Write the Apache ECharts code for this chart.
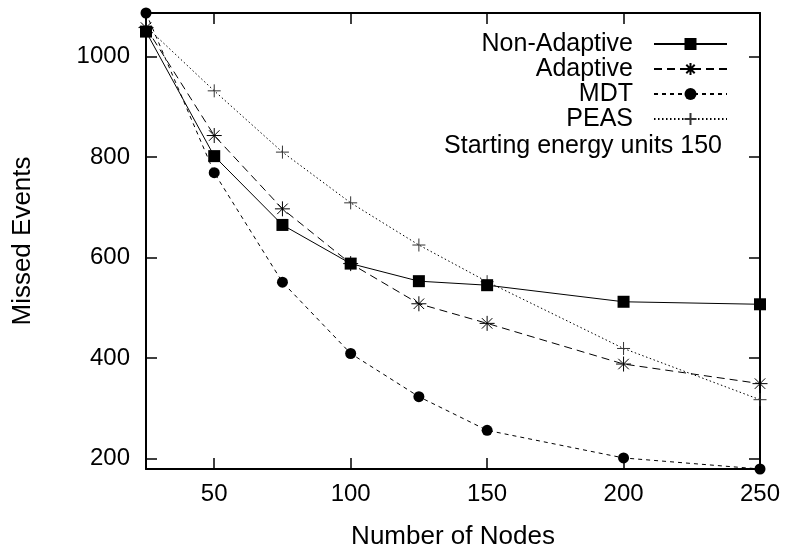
<!DOCTYPE html>
<html>
<head>
<meta charset="utf-8">
<title>Missed Events vs Number of Nodes</title>
<script src="https://cdn.jsdelivr.net/npm/echarts@6/dist/echarts.min.js"></script>
<style>
  html, body { margin: 0; padding: 0; background: #fff; }
  #chart { width: 789px; height: 548px; }
</style>
</head>
<body>
<div id="chart"></div>
<script>
// Number of nodes in the network (x values)
const nodes = [25, 50, 75, 100, 125, 150, 200, 250];

// Missed events per protocol
const nonAdaptive = [1050, 802, 665, 588, 553, 545, 512, 507];
const adaptive    = [1058, 843, 697, 588, 508, 469, 388, 349];
const mdt         = [1087, 769, 551, 409, 323, 256, 201, 179];
const peas        = [1060, 932, 810, 709, 625, 552, 419, 317];

// Tick positions
const xTicks = [50, 100, 150, 200, 250];
const yTicks = [200, 400, 600, 800, 1000];

const FONT = '"Liberation Sans", Arial, Helvetica, sans-serif';
const INK = '#000';

const ASTERISK = 'path://M5 0L5 10M0 5L10 5M1.5 1.5L8.5 8.5M1.5 8.5L8.5 1.5';
const PLUS = 'path://M5 0L5 10M0 5L10 5';

function pairs(ys) { return nodes.map((x, i) => [x, ys[i]]); }
const plain = v => String(v);

const chart = echarts.init(document.getElementById('chart'), null, { renderer: 'canvas' });

const axisCommon = {
  type: 'value',
  axisLine: { show: true, lineStyle: { color: INK, width: 2 } },
  splitLine: { show: false },
  axisTick: { show: true, inside: true, length: 11, lineStyle: { color: INK, width: 1.5 } }
};

const legendRows = [
  { name: 'Non-Adaptive', center: 39 },
  { name: 'Adaptive', center: 64 },
  { name: 'MDT', center: 89 },
  { name: 'PEAS', center: 114 }
];
const ITEM_H = 15;
const KEY_FONT = 25;

chart.setOption({
  animation: false,
  backgroundColor: '#fff',
  textStyle: { fontFamily: FONT, color: INK },
  title: {
    text: 'Starting energy units 150',
    right: 67,
    top: 134,
    padding: 0,
    textStyle: { fontFamily: FONT, fontSize: KEY_FONT, fontWeight: 'normal', color: INK }
  },
  legend: legendRows.map(r => ({
    data: [r.name],
    right: 61,
    top: r.center - ITEM_H / 2,
    padding: 0,
    align: 'right',
    itemWidth: 73,
    itemHeight: ITEM_H,
    selectedMode: false,
    textStyle: { fontFamily: FONT, fontSize: KEY_FONT, color: INK, padding: [0, 16, 0, 0] }
  })),
  grid: { left: 146, right: 29, top: 13, bottom: 79, containLabel: false, outerBoundsMode: 'none' },
  xAxis: [
    Object.assign({}, axisCommon, {
      position: 'bottom',
      min: 25, max: 250,
      name: 'Number of Nodes',
      nameLocation: 'middle',
      nameGap: 55,
      nameTextStyle: { fontFamily: FONT, fontSize: 26, color: INK },
      axisTick: Object.assign({}, axisCommon.axisTick, { customValues: xTicks }),
      axisLabel: { customValues: xTicks, margin: 13, fontFamily: FONT, fontSize: 24, color: INK, formatter: plain }
    }),
    Object.assign({}, axisCommon, {
      position: 'top',
      min: 25, max: 250,
      axisTick: Object.assign({}, axisCommon.axisTick, { customValues: xTicks }),
      axisLabel: { show: false }
    })
  ],
  yAxis: [
    Object.assign({}, axisCommon, {
      position: 'left',
      min: 179, max: 1087,
      name: 'Missed Events',
      nameLocation: 'middle',
      nameGap: 110,
      nameTextStyle: { fontFamily: FONT, fontSize: 26, color: INK },
      axisTick: Object.assign({}, axisCommon.axisTick, { customValues: yTicks }),
      axisLabel: { customValues: yTicks, margin: 16, fontFamily: FONT, fontSize: 24, color: INK, formatter: plain }
    }),
    Object.assign({}, axisCommon, {
      position: 'right',
      min: 179, max: 1087,
      axisTick: Object.assign({}, axisCommon.axisTick, { customValues: yTicks }),
      axisLabel: { show: false }
    })
  ],
  series: [
    {
      name: 'Non-Adaptive', type: 'line', data: pairs(nonAdaptive),
      symbol: 'rect', symbolSize: 12, clip: false,
      lineStyle: { color: INK, width: 1, type: 'solid' },
      itemStyle: { color: INK, borderColor: INK, borderWidth: 0 },
      emphasis: { disabled: true }, z: 5
    },
    {
      name: 'Adaptive', type: 'line', data: pairs(adaptive),
      symbol: ASTERISK, symbolSize: 15, clip: false,
      lineStyle: { color: INK, width: 1, type: [8, 5] },
      itemStyle: { color: INK, borderColor: INK, borderWidth: 1 },
      emphasis: { disabled: true }, z: 4
    },
    {
      name: 'MDT', type: 'line', data: pairs(mdt),
      symbol: 'circle', symbolSize: 11, clip: false,
      lineStyle: { color: INK, width: 1, type: [4, 4] },
      itemStyle: { color: INK, borderColor: INK, borderWidth: 0 },
      emphasis: { disabled: true }, z: 6
    },
    {
      name: 'PEAS', type: 'line', data: pairs(peas),
      symbol: PLUS, symbolSize: 13, clip: false,
      lineStyle: { color: INK, width: 1, type: [1.5, 2.5] },
      itemStyle: { color: '#333', borderColor: '#333', borderWidth: 1 },
      emphasis: { disabled: true }, z: 3
    }
  ]
});
</script>
</body>
</html>
